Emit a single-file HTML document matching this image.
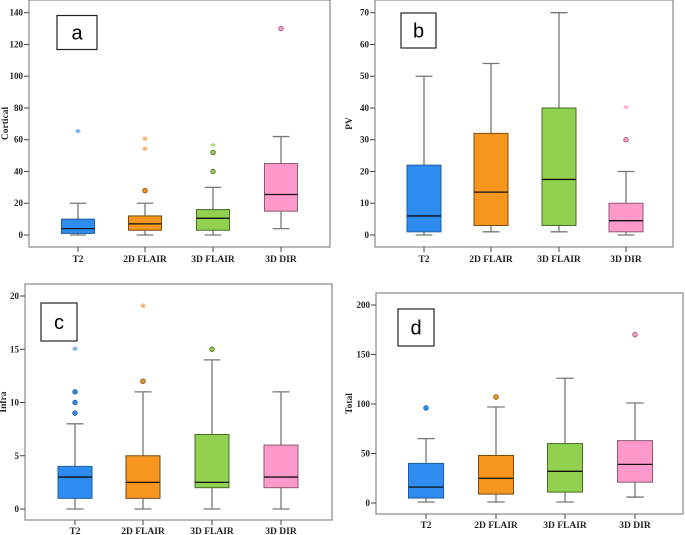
<!DOCTYPE html>
<html><head><meta charset="utf-8">
<style>
body{margin:0;background:#fff;}
svg{display:block;font-family:"Liberation Serif",serif;}
.tick{font-size:9px;font-weight:bold;fill:#222;}
.cat{font-size:9.5px;font-weight:bold;fill:#222;}
.ttl{font-size:9.5px;font-weight:bold;fill:#222;}
.lbl{font-family:"Liberation Sans",sans-serif;font-size:20px;fill:#000;}
</style></head>
<body>
<svg id="chart" width="685" height="535" viewBox="0 0 685 535" xmlns="http://www.w3.org/2000/svg"></svg>
<script>
const categories = ["T2","2D FLAIR","3D FLAIR","3D DIR"];
// [min, q1, median, q3, max]
const cortical = [[0,1,4,10,20],[0,3,7,12,20],[0,3,10.5,16,30],[4,15,25.5,45,62]];
const corticalCircles = [[],[28],[40,52],[130]];
const corticalStars = [[65],[54,60],[56],[]];
const corticalTicks = [0,20,40,60,80,100,120,140];
const pv = [[0,1,6,22,50],[1,3,13.5,32,54],[1,3,17.5,40,70],[0,1,4.5,10,20]];
const pvCircles = [[],[],[],[30]];
const pvStars = [[],[],[],[40]];
const pvTicks = [0,10,20,30,40,50,60,70];
const infra = [[0,1,3,4,8],[0,1,2.5,5,11],[0,2,2.5,7,14],[0,2,3,6,11]];
const infraCircles = [[9,10,11],[12],[15],[]];
const infraStars = [[15],[19],[],[]];
const infraTicks = [0,5,10,15,20];
const total = [[1,5,16,40,65],[1,9,25,48,97],[1,11,32,60,126],[6,21,39,63,101]];
const totalCircles = [[96],[107],[],[170]];
const totalStars = [[],[],[],[]];
const totalTicks = [0,50,100,150,200];

const fills=["#2e8bef","#f7961e","#92d050","#ff99cc"];
const strokes=["#1f5f9f","#7a4a10","#4a6a28","#8a5a70"];
const starCols=["#4f9ff2","#f7a040","#9fd868","#ff99cc"];
const NS="http://www.w3.org/2000/svg";
const svg=document.getElementById('chart');
function mk(tag,attrs,parent){const e=document.createElementNS(NS,tag);for(const k in attrs)e.setAttribute(k,attrs[k]);(parent||svg).appendChild(e);return e;}

function panel(cfg){
  const g=mk('g',{});
  
  
  const y=v=>cfg.y0+(v-cfg.vmin)/(cfg.vmax-cfg.vmin)*(cfg.y1-cfg.y0);
  const fr=mk('rect',{x:cfg.l,y:cfg.t,width:cfg.r-cfg.l,height:cfg.b-cfg.t,fill:'none',stroke:'#888','stroke-width':1.2},g);
  
  
  cfg.ticks.forEach(tv=>{
    mk('line',{x1:cfg.l-5,x2:cfg.l,y1:y(tv),y2:y(tv),stroke:'#444'},g);
    const t=mk('text',{x:cfg.l-6,y:y(tv)+3,'text-anchor':'end',class:'tick'},g);
    t.textContent=tv;
    
    
  });
  const tt=mk('text',{transform:`translate(${cfg.titleX},${(cfg.t+cfg.b)/2}) rotate(-90)`,'text-anchor':'middle',class:'ttl'},g);
  tt.textContent=cfg.title;
  
  
  const bw=cfg.bw;
  categories.forEach((c,i)=>{
    const cx=cfg.cx[i];
    mk('line',{x1:cx,x2:cx,y1:cfg.b,y2:cfg.b+5,stroke:'#444'},g);
    const ct=mk('text',{x:cx,y:cfg.labY,'text-anchor':'middle',class:'cat'},g);
    ct.textContent=c;
    
    
    const d=cfg.data[i];
    const bg=mk('g',{},g);
    
    
    mk('line',{x1:cx,x2:cx,y1:y(d[0]),y2:y(d[4]),stroke:'#777','stroke-width':1.3},bg);
    mk('line',{x1:cx-bw/4,x2:cx+bw/4,y1:y(d[0]),y2:y(d[0]),stroke:'#777','stroke-width':1.3},bg);
    mk('line',{x1:cx-bw/4,x2:cx+bw/4,y1:y(d[4]),y2:y(d[4]),stroke:'#777','stroke-width':1.3},bg);
    mk('rect',{x:cx-bw/2,y:y(d[3]),width:bw,height:Math.max(0.5,y(d[1])-y(d[3])),fill:fills[i],stroke:strokes[i],'stroke-width':1},bg);
    mk('line',{x1:cx-bw/2,x2:cx+bw/2,y1:y(d[2]),y2:y(d[2]),stroke:'#111','stroke-width':1.3},bg);
    cfg.circles[i].forEach(v=>{
      const o=mk('circle',{cx:cx,cy:y(v),r:2.3,fill:fills[i],stroke:strokes[i],'stroke-width':0.8},g);
      
      
    });
    cfg.stars[i].forEach(v=>{
      const s=mk('text',{x:cx,y:y(v)+4.5,'text-anchor':'middle','font-size':'12px','font-weight':'bold',fill:starCols[i]},g);
      s.textContent='*';
      
      
    });
  });
  const lb=mk('rect',{x:cfg.lab[0],y:cfg.lab[1],width:cfg.lab[2],height:cfg.lab[3],fill:'#fff',stroke:'#222','stroke-width':1.2},g);
  
  
  const lt=mk('text',{x:cfg.lab[0]+cfg.lab[2]/2,y:cfg.lab[1]+cfg.lab[3]/2+7,'text-anchor':'middle',class:'lbl'},g);
  lt.textContent=cfg.name;
  
  
}

panel({name:'a',l:29,r:330,t:0,b:247,y0:235,y1:12.7,vmin:0,vmax:140,ticks:corticalTicks,title:'Cortical',titleX:8,
  cx:[78,145,213,281],bw:33,labY:262,data:cortical,circles:corticalCircles,stars:corticalStars,lab:[57,15.5,40,34]});
panel({name:'b',l:375,r:673,t:0,b:247,y0:235,y1:12.7,vmin:0,vmax:70,ticks:pvTicks,title:'PV',titleX:352,
  cx:[424,491,559,626],bw:34,labY:262,data:pv,circles:pvCircles,stars:pvStars,lab:[401,13,35,35]});
panel({name:'c',l:25,r:332,t:284,b:520,y0:509,y1:296,vmin:0,vmax:20,ticks:infraTicks,title:'Infra',titleX:6,
  cx:[75,143,212,281],bw:34,labY:534,data:infra,circles:infraCircles,stars:infraStars,lab:[41,303,36,38]});
panel({name:'d',l:376,r:683,t:293,b:514,y0:503,y1:305,vmin:0,vmax:200,ticks:totalTicks,title:'Total',titleX:352,
  cx:[426,496,565,635],bw:35,labY:528,data:total,circles:totalCircles,stars:totalStars,lab:[398,309,36,37]});
</script>
</body></html>
